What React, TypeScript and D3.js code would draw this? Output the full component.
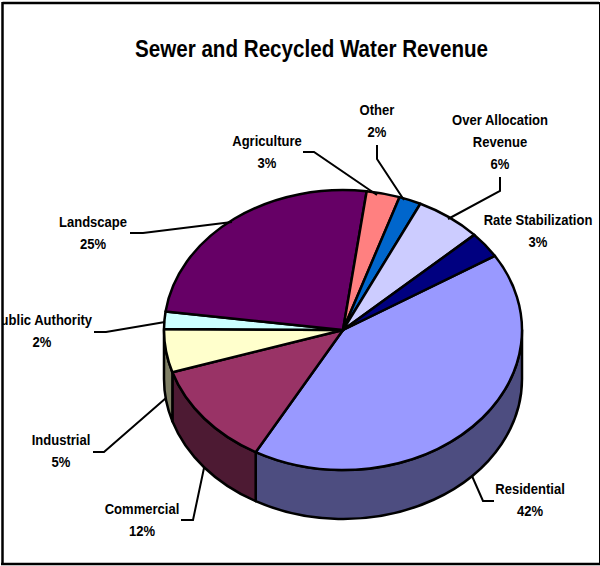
import React from "react";
import * as d3 from "d3";

// Revenue share by customer class, clockwise from the Residential slice.
const categories = [
  "Residential",
  "Commercial",
  "Industrial",
  "Public Authority",
  "Landscape",
  "Agriculture",
  "Other",
  "Over Allocation Revenue",
  "Rate Stabilization",
];
const shares = [42, 12, 5, 2, 25, 3, 2, 6, 3];
const topColors = ["#9999FF", "#993366", "#FFFFCC", "#CCFFFF", "#660066", "#FF8080", "#0066CC", "#CCCCFF", "#000080"];
const sideColors = ["#4D4D80", "#4D1A33", "#808066", "#668080", "#330033", "#804040", "#003366", "#666680", "#000040"];
const titleText = "Sewer and Recycled Water Revenue";

// Label blocks: text lines, anchor centre, first baseline and leader polyline.
const labelLines = [
  ["Residential", "42%"],
  ["Commercial", "12%"],
  ["Industrial", "5%"],
  ["Public Authority", "2%"],
  ["Landscape", "25%"],
  ["Agriculture", "3%"],
  ["Other", "2%"],
  ["Over Allocation", "Revenue", "6%"],
  ["Rate Stabilization", "3%"],
];
const labelCenters: [number, number][] = [
  [530, 494],
  [142, 514],
  [61, 445],
  [42, 325],
  [93, 227],
  [267, 146],
  [377, 115],
  [500, 125],
  [538, 225],
];
const leaders: [number, number][][] = [
  [[494, 501], [483, 501], [472, 476]],
  [[181, 520], [193, 520], [204, 468]],
  [[93, 452], [104, 452], [166, 398]],
  [[94, 332], [106, 332], [165, 322]],
  [[130, 233], [143, 233], [232, 222]],
  [[303, 152], [314, 152], [377, 195]],
  [[377, 145], [377, 159], [404, 200]],
  [[500, 177], [500, 191], [448, 219]],
];

const WIDTH = 600;
const HEIGHT = 566;
const CX = 343;
const CY = 330;
const RX = 179;
const RY = 140;
const DEPTH = 49;
const START_ANGLE = (58 * Math.PI) / 180;
const FONT = "'Liberation Sans', Arial, sans-serif";
const LABEL_STRETCH = 0.87;

const x = d3.scaleLinear().domain([-1, 1]).range([CX - RX, CX + RX]);
const y = d3.scaleLinear().domain([-1, 1]).range([CY - RY, CY + RY]);

const rimX = (a: number) => x(Math.sin(a));
const rimY = (a: number) => y(-Math.cos(a));

const pie = d3
  .pie<number>()
  .sort(null)
  .startAngle(START_ANGLE)
  .endAngle(START_ANGLE + 2 * Math.PI);

const arcs = pie(shares);

function topPath(a0: number, a1: number) {
  const large = a1 - a0 > Math.PI ? 1 : 0;
  return `M${CX},${CY}L${rimX(a0)},${rimY(a0)}A${RX},${RY} 0 ${large} 1 ${rimX(a1)},${rimY(a1)}Z`;
}

// Outer wall of a slice, limited to the front half of the ellipse.
function sidePath(a0: number, a1: number) {
  const from = Math.max(a0, Math.PI / 2);
  const to = Math.min(a1, (3 * Math.PI) / 2);
  if (to <= from) return null;
  return (
    `M${rimX(from)},${rimY(from)}A${RX},${RY} 0 0 1 ${rimX(to)},${rimY(to)}` +
    `L${rimX(to)},${rimY(to) + DEPTH}A${RX},${RY} 0 0 0 ${rimX(from)},${rimY(from) + DEPTH}Z`
  );
}

const leaderLine = d3.line<[number, number]>();

export default function App() {
  return (
    <svg
      width={WIDTH}
      height={HEIGHT}
      viewBox={`0 0 ${WIDTH} ${HEIGHT}`}
      style={{ position: "absolute", left: 0, top: 0, display: "block", background: "#fff" }}
    >
      <defs>
        <clipPath id="frame-inner">
          <rect x={3} y={3} width={596} height={560} />
        </clipPath>
      </defs>

      {/* Chart frame: heavy on the top, left and bottom, hairline on the right */}
      <g stroke="#000">
        <line x1={2.5} y1={3} x2={599} y2={3} strokeWidth={2.5} />
        <line x1={2.5} y1={2} x2={2.5} y2={565} strokeWidth={2.5} />
        <line x1={1} y1={564} x2={600} y2={564} strokeWidth={2.5} />
        <line x1={599.5} y1={2} x2={599.5} y2={565} strokeWidth={1} />
      </g>

      <text
        x={311.5}
        y={57}
        textAnchor="middle"
        fontFamily={FONT}
        fontWeight="bold"
        fontSize={24}
        textLength={353}
        lengthAdjust="spacingAndGlyphs"
      >
        {titleText}
      </text>

      <g stroke="#000" strokeWidth={2.5} strokeLinejoin="round">
        {arcs.map((d, i) => {
          const p = sidePath(d.startAngle, d.endAngle);
          return p ? <path key={categories[i]} d={p} fill={sideColors[i]} /> : null;
        })}
        {arcs.map((d, i) => (
          <path key={categories[i]} d={topPath(d.startAngle, d.endAngle)} fill={topColors[i]} />
        ))}
      </g>

      <g fill="none" stroke="#000" strokeWidth={2}>
        {leaders.map((pts, i) => (
          <path key={i} d={leaderLine(pts) ?? ""} />
        ))}
      </g>

      <g clipPath="url(#frame-inner)" fontFamily={FONT} fontWeight="bold" fontSize={15} textAnchor="middle" fill="#000">
        {labelLines.map((lines, i) => (
          <g key={categories[i]}>
            {lines.map((line, j) => (
              <text
                key={j}
                transform={`translate(${labelCenters[i][0]},${labelCenters[i][1] + j * 22}) scale(${LABEL_STRETCH},1)`}
              >
                {line}
              </text>
            ))}
          </g>
        ))}
      </g>
    </svg>
  );
}
